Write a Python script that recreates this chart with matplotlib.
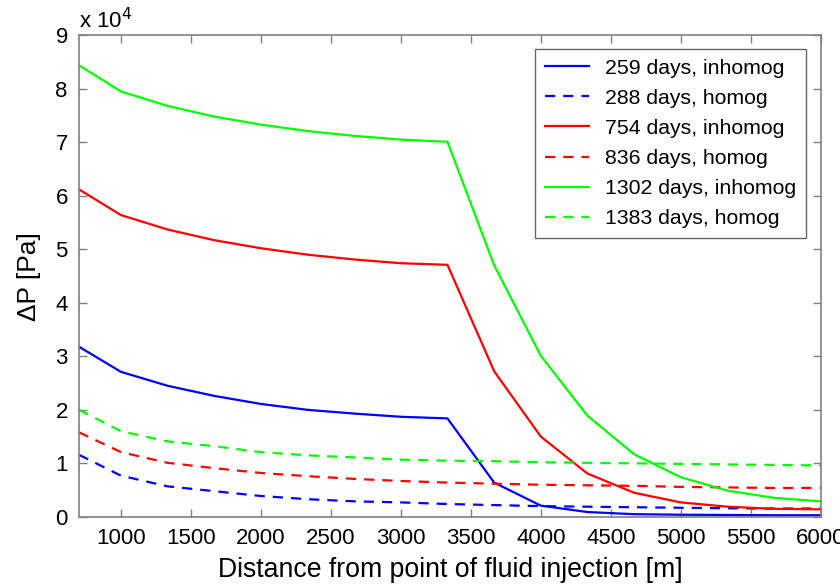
import matplotlib
matplotlib.use('Agg')
import matplotlib.pyplot as plt
import numpy as np

plt.rcParams['font.family'] = ['Liberation Sans', 'DejaVu Sans']

# distance from injection point [m]
dist = [700, 1000, 1333, 1667, 2000, 2333, 2667, 3000, 3333,
        3667, 4000, 4333, 4667, 5000, 5333, 5667, 6000]

# pressure change, units of 1e4 Pa
blue_inh = [3.18, 2.71, 2.45, 2.26, 2.11, 2.00, 1.93, 1.87, 1.84,
            0.64, 0.21, 0.09, 0.05, 0.04, 0.035, 0.03, 0.03]
blue_hom = [1.16, 0.77, 0.57, 0.48, 0.39, 0.33, 0.29, 0.27, 0.24,
            0.22, 0.20, 0.19, 0.18, 0.17, 0.16, 0.155, 0.155]
red_inh = [6.12, 5.64, 5.37, 5.17, 5.02, 4.90, 4.81, 4.74, 4.71,
           2.72, 1.50, 0.81, 0.45, 0.27, 0.19, 0.15, 0.14]
red_hom = [1.58, 1.21, 1.01, 0.91, 0.82, 0.76, 0.71, 0.67, 0.64,
           0.62, 0.60, 0.59, 0.58, 0.56, 0.55, 0.54, 0.54]
green_inh = [8.44, 7.95, 7.68, 7.48, 7.33, 7.21, 7.12, 7.05, 7.01,
             4.70, 3.01, 1.89, 1.17, 0.74, 0.49, 0.355, 0.29]
green_hom = [2.00, 1.60, 1.41, 1.32, 1.21, 1.15, 1.11, 1.07, 1.05,
             1.04, 1.02, 1.01, 1.00, 0.99, 0.98, 0.97, 0.96]

series = [
    (blue_inh, '#0000ff', '-', '259 days, inhomog'),
    (blue_hom, '#0000ff', '--', '288 days, homog'),
    (red_inh, '#ff0000', '-', '754 days, inhomog'),
    (red_hom, '#ff0000', '--', '836 days, homog'),
    (green_inh, '#00ff00', '-', '1302 days, inhomog'),
    (green_hom, '#00ff00', '--', '1383 days, homog'),
]

fig = plt.figure(figsize=(8.4, 5.88), dpi=100)
ax = fig.add_axes([0.094, 0.121, 0.883, 0.819])

x = np.array(dist)
for vals, col, ls, lab in series:
    if ls == '--':
        ax.plot(x, np.array(vals) * 1e4, color=col, linewidth=1.6,
                linestyle=(0, (4.6, 3.6)), label=lab)
    else:
        ax.plot(x, np.array(vals) * 1e4, color=col, linewidth=1.6, label=lab)

ax.set_xlim(700, 6000)
ax.set_ylim(0, 9e4)
ax.set_xticks([1000, 1500, 2000, 2500, 3000, 3500, 4000, 4500, 5000, 5500, 6000])
ax.set_yticks(np.arange(0, 10) * 1e4)
ax.set_yticklabels([str(i) for i in range(10)])

for s in ax.spines.values():
    s.set_color('#808080')
    s.set_linewidth(1.2)
ax.tick_params(direction='in', top=True, right=True, length=6, width=1,
               color='#808080', labelsize=16, labelcolor='black', pad=8)

ax.text(0.0, 1.005, r'x 10$^4$', transform=ax.transAxes, fontsize=16,
        va='bottom', ha='left')

ax.set_xlabel('Distance from point of fluid injection [m]', fontsize=19.2, labelpad=6)
ax.set_ylabel('ΔP [Pa]', fontsize=19, labelpad=10)

leg = ax.legend(loc='upper right', fontsize=15.3, frameon=True, fancybox=False,
                edgecolor='#404040', handlelength=2.1, handletextpad=0.75,
                borderpad=0.45, labelspacing=0.52, borderaxespad=0,
                bbox_to_anchor=(0.980, 0.971))
leg.get_frame().set_linewidth(1)

fig.savefig('out.png', dpi=100)
